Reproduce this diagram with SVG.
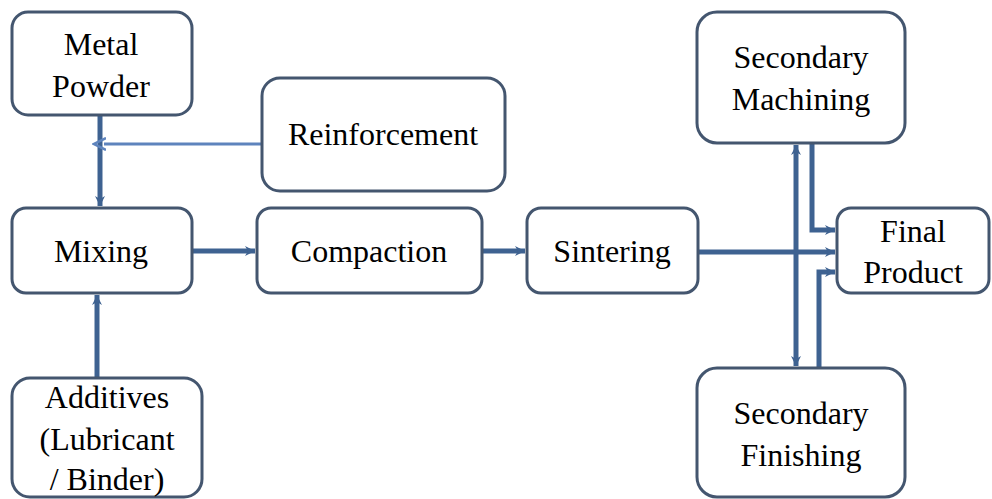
<svg xmlns="http://www.w3.org/2000/svg" width="992" height="499" viewBox="0 0 992 499">
<style>
.box{fill:#fff;stroke:#44566f;stroke-width:3}
.c{fill:none;stroke:#3e6291;stroke-width:5}
.c2{fill:none;stroke:#5e84bd;stroke-width:3}
</style>
<defs>
<marker id="ah" markerUnits="userSpaceOnUse" markerWidth="12" markerHeight="12" refX="10" refY="6" orient="auto">
<path d="M0,1 L10,6 L0,11 L3,6 Z" fill="#3e6291"/>
</marker>
<marker id="ah2" markerUnits="userSpaceOnUse" markerWidth="14" markerHeight="14" refX="2" refY="7" orient="auto">
<path d="M0,1 L12,7 L0,13" fill="none" stroke="#5e84bd" stroke-width="2.5"/>
</marker>
</defs>
<g id="connectors">
<path class="c" d="M100 116 V206" marker-end="url(#ah)"/>
<path class="c2" d="M262 144 H104" marker-end="url(#ah2)"/>
<path class="c" d="M97 378 V295" marker-end="url(#ah)"/>
<path class="c" d="M193 251 H255" marker-end="url(#ah)"/>
<path class="c" d="M483 251 H525" marker-end="url(#ah)"/>
<path class="c" d="M699 252 H835" marker-end="url(#ah)"/>
<path class="c" d="M796 252 V145" marker-end="url(#ah)"/>
<path class="c" d="M796 252 V366" marker-end="url(#ah)"/>
<path class="c" d="M812 144 V230 H835" marker-end="url(#ah)"/>
<path class="c" d="M819 367 V272 H835" marker-end="url(#ah)"/>
</g>
<g id="metal-powder">
<rect class="box" x="12" y="12" width="180" height="103" rx="16"/>
<text font-family="Times New Roman" font-size="32" x="101" y="55" text-anchor="middle">Metal</text>
<text font-family="Times New Roman" font-size="32" x="101" y="97" text-anchor="middle">Powder</text>
</g>
<g id="reinforcement">
<rect class="box" x="262" y="78" width="243" height="113" rx="18"/>
<text font-family="Times New Roman" font-size="32" x="383" y="145" text-anchor="middle">Reinforcement</text>
</g>
<g id="mixing">
<rect class="box" x="12" y="208" width="180" height="85" rx="14"/>
<text font-family="Times New Roman" font-size="32" x="101" y="262" text-anchor="middle">Mixing</text>
</g>
<g id="compaction">
<rect class="box" x="257" y="208" width="225" height="85" rx="14"/>
<text font-family="Times New Roman" font-size="32" x="369" y="262" text-anchor="middle">Compaction</text>
</g>
<g id="sintering">
<rect class="box" x="527" y="208" width="171" height="85" rx="14"/>
<text font-family="Times New Roman" font-size="32" x="612" y="262" text-anchor="middle">Sintering</text>
</g>
<g id="final-product">
<rect class="box" x="837" y="208" width="152" height="85" rx="14"/>
<text font-family="Times New Roman" font-size="32" x="913" y="242" text-anchor="middle">Final</text>
<text font-family="Times New Roman" font-size="32" x="913" y="283" text-anchor="middle">Product</text>
</g>
<g id="secondary-machining">
<rect class="box" x="697" y="12" width="208" height="131" rx="20"/>
<text font-family="Times New Roman" font-size="32" x="801" y="68" text-anchor="middle">Secondary</text>
<text font-family="Times New Roman" font-size="32" x="801" y="110" text-anchor="middle">Machining</text>
</g>
<g id="secondary-finishing">
<rect class="box" x="697" y="368" width="208" height="129" rx="20"/>
<text font-family="Times New Roman" font-size="32" x="801" y="424" text-anchor="middle">Secondary</text>
<text font-family="Times New Roman" font-size="32" x="801" y="466" text-anchor="middle">Finishing</text>
</g>
<g id="additives">
<rect class="box" x="12" y="378" width="190" height="119" rx="18"/>
<text font-family="Times New Roman" font-size="32" x="107" y="408" text-anchor="middle">Additives</text>
<text font-family="Times New Roman" font-size="32" x="107" y="450" text-anchor="middle">(Lubricant</text>
<text font-family="Times New Roman" font-size="32" x="107" y="490" text-anchor="middle">/ Binder)</text>
</g>
</svg>
